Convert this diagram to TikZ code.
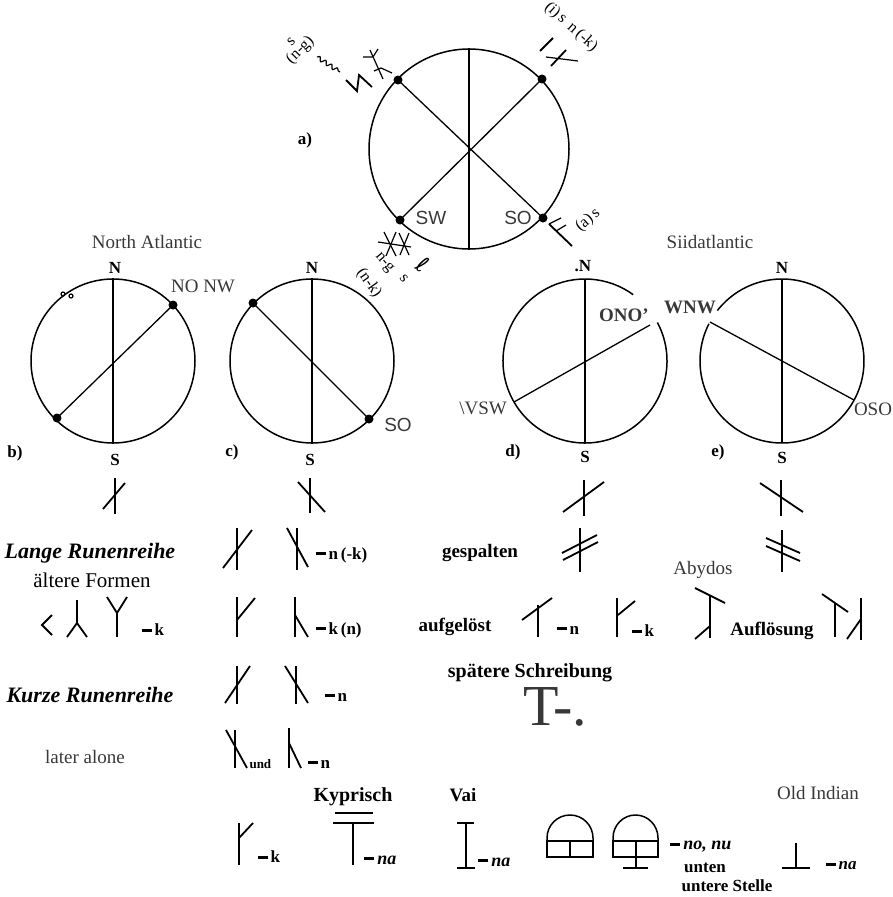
\documentclass[tikz,border=0pt]{standalone}
\usepackage{fontspec}
\setmainfont{Liberation Serif}
\setsansfont{Liberation Sans}
\newfontfamily\dvs{DejaVu Sans}
\usetikzlibrary{decorations.pathmorphing}
\newcommand{\fsz}[1]{\fontsize{#1}{#1}\selectfont}
\newcommand{\eqbar}{\rule[0.22em]{0.6em}{0.17em}\,}
\begin{document}
\begin{tikzpicture}[x=1pt,y=-1pt,
  circ/.style={draw, circle, line width=1.5pt, inner sep=0pt},
  dot/.style={circle, fill, inner sep=0pt, minimum size=9pt},
  ln/.style={line width=1.3pt},
  rn/.style={line width=1.8pt},
  thinrn/.style={line width=1.2pt},
  ov/.style={text=black!78, font=\fsz{19}},
  ovs/.style={text=black!78, font=\sffamily\fsz{19}},
  lbl/.style={font=\bfseries\fsz{17}},
  bigl/.style={font=\bfseries\fsz{19}},
  eq/.style={font=\bfseries\fsz{17}, anchor=west},
  sm/.style={font=\fsz{16}, inner sep=1pt}
]
\useasboundingbox (0,0) rectangle (893,897);

% ---------------- circle a
\node[circ, minimum size=200pt] (ca) at (469,149) {};
\draw[ln] (ca.north) -- (ca.south);
\node[dot] (aNW) at (398,80) {};
\node[dot] (aNE) at (542,79) {};
\node[dot] (aSW) at (400,220) {};
\node[dot] (aSO) at (543,218) {};
\draw[ln] (aNW.center) -- (aSO.center);
\draw[ln] (aNE.center) -- (aSW.center);
\node[lbl] (la) at (305,140) {a)};
\node[ovs] (tSW) at (431,218) {SW};
\node[ovs] (tSO) at (518,218) {SO};
% NW runes
\node[rotate=45, align=center, inner sep=1pt, font={\fontsize{16}{13}\selectfont}] (nwNG) at (297,47) {s\\(n-g)};
\draw[thinrn, decorate, decoration={snake, amplitude=2pt, segment length=7pt}] (317,57) -- (340,72);
\draw[rn] (346,80) -- (357,91) -- (359,75) -- (372,87);
\draw[thinrn] (370,50) -- (383,79);
\draw[thinrn] (363,57) -- (373,57) -- (378,49);
\draw[thinrn] (374,71) -- (381,68) -- (392,73);
% NE runes
\node[sm, rotate=-42] (neT) at (571,27) {(i)\,s\, n\,(-k)};
\draw[rn] (540,51) -- (553,38);
\draw[rn] (551,66) -- (566,50);
\draw[thinrn] (546,57) -- (578,61);
% SO runes
\draw[rn] (549,224) -- (572,246);
\draw[thinrn] (549,224) -- (561,218);
\draw[thinrn] (556,231) -- (566,225);
\node[sm, rotate=40] (soT) at (588,220) {(a)\,s};
% SW runes
\draw[thinrn] (378,242) -- (411,247);
\draw[thinrn] (384,232) -- (396,256);
\draw[thinrn] (396,232) -- (386,256);
\draw[thinrn] (399,233) -- (409,255);
\draw[thinrn] (409,233) -- (400,255);
\node[sm, rotate=-50] (swNG) at (384,263) {n-g};
\node[sm, rotate=-50] (swS) at (404,279) {s};
\node[sm, rotate=-55] (swNK) at (369,283) {(n-k)};
\node[font=\dvs\fsz{22}, rotate=-35] (swL) at (423,265) {ℓ};

% ---------------- titles
\node[ov] (tNA) at (147,242) {North Atlantic};
\node[ov] (tSA) at (710,242) {Siidatlantic};

% ---------------- circle b
\node[circ, minimum size=164pt] (cb) at (113,361) {};
\draw[thinrn] (cb.north) -- (cb.south);
\node[dot] (bNE) at (173,305) {};
\node[dot] (bSW) at (57,418) {};
\draw[ln] (bNE.center) -- (bSW.center);
\node[lbl] (bN) at (115,268) {N};
\node[lbl] (bS) at (115,460) {S};
\node[lbl] (bl) at (15,453) {b)};
\node[ov] (bNO) at (203,286) {NO NW};
\draw[line width=1.2pt] (63,294) circle (2);
\draw[line width=1.2pt] (71,296) circle (2);

% ---------------- circle c
\node[circ, minimum size=164pt] (cc) at (312,361) {};
\draw[thinrn] (cc.north) -- (cc.south);
\node[dot] (cNW) at (253,303) {};
\node[dot] (cSE) at (369,419) {};
\draw[ln] (cNW.center) -- (cSE.center);
\node[lbl] (cN) at (312,268) {N};
\node[lbl] (cS) at (310,460) {S};
\node[lbl] (cl) at (232,452) {c)};
\node[ovs] (cSO) at (398,425) {SO};

% ---------------- circle d
\coordinate (cd) at (585,361);
\draw[line width=1.5pt] (cd) ++(-28:82) arc[start angle=-28, end angle=306, radius=82];
\draw[thinrn] (585,279) -- (585,443);
\draw[line width=1.8pt] (585,325) -- (585,400);
\coordinate (dW) at (514,402);
\coordinate (dO) at (650,325);
\draw[ln] (dW) -- (dO);
\node[lbl] (dN) at (583,266) {.N};
\node[lbl] (dS) at (585,457) {S};
\node[lbl] (dl) at (513,452) {d)};
\node[ov, font=\bfseries\fsz{19}] (dONO) at (624,315) {ONO'};
\node[ov] (dVSW) at (483,408) {\textbackslash VSW};

% ---------------- circle e
\coordinate (ce) at (782,361);
\draw[line width=1.5pt] (ce) ++(218:82) arc[start angle=218, end angle=567, radius=82];
\draw[thinrn] (782,279) -- (782,361);
\draw[line width=2.2pt] (782,361) -- (782,443);
\coordinate (eW) at (710,322);
\coordinate (eO) at (854,400);
\draw[ln] (eW) -- (eO);
\node[lbl] (eN) at (782,268) {N};
\node[lbl] (eS) at (782,458) {S};
\node[lbl] (el) at (718,452) {e)};
\node[ov, font=\bfseries\fsz{19}] (eWNW) at (690,307) {WNW};
\node[ov] (eOSO) at (873,409) {OSO};

% ---------------- runes under circles
\draw[rn] (115,478) -- (115,514);  \draw[rn] (103,509) -- (125,483);
\draw[rn] (310,478) -- (310,513);  \draw[rn] (298,482) -- (325,512);
\draw[rn] (584,480) -- (584,516);  \draw[rn] (563,512) -- (604,482);
\draw[rn] (781,480) -- (781,516);  \draw[rn] (760,483) -- (803,512);

% ---------------- Lange Runenreihe
\node[font=\bfseries\itshape\fsz{22}] (lange) at (90,553) {Lange Runenreihe};
\node[font=\fsz{21}] (aelt) at (92,580) {ältere Formen};
\draw[rn] (237,528) -- (237,570);  \draw[rn] (223,568) -- (252,530);
\draw[rn] (297,528) -- (297,570);  \draw[rn] (287,528) -- (308,567);
\node[eq] (eq1) at (312,555) {\eqbar n\,(-k)};
\node[bigl] (gesp) at (480,553) {gespalten};
\draw[rn] (580,528) -- (580,572);
\draw[rn] (562,553) -- (597,535);  \draw[rn] (563,560) -- (598,542);
\draw[rn] (782,530) -- (782,572);
\draw[rn] (766,538) -- (800,553);  \draw[rn] (766,546) -- (800,561);
\node[ov] (abyd) at (703,570) {Abydos};

% row: < ⅄ Y = k
\draw[rn] (52,615) -- (42,625) -- (52,635);
\draw[rn] (77,600) -- (77,623); \draw[rn] (67,637) -- (77,623) -- (87,637);
\draw[rn] (107,597) -- (117,613) -- (127,597); \draw[rn] (117,613) -- (117,637);
\node[eq] (eqk) at (138,630) {\eqbar k};
\draw[rn] (237,597) -- (237,637);  \draw[rn] (237,620) -- (255,598);
\draw[rn] (295,597) -- (295,637);  \draw[rn] (295,615) -- (308,637);
\node[eq] (eqkn) at (312,630) {\eqbar k\,(n)};
\node[bigl] (aufg) at (455,627) {aufgelöst};
\draw[rn] (538,605) -- (538,637);  \draw[rn] (522,620) -- (552,598);
\node[eq] (eqn2) at (553,630) {\eqbar n};
\draw[rn] (617,598) -- (617,637);  \draw[rn] (618,615) -- (635,601);
\node[eq] (eqk2) at (628,631) {\eqbar k};
\draw[rn] (695,588) -- (725,603); \draw[rn] (710,595) -- (710,638); \draw[rn] (695,639) -- (710,626);
\node[bigl] (aufl) at (772,631) {Auflösung};
\draw[rn] (822,594) -- (848,612); \draw[rn] (835,603) -- (835,637);
\draw[rn] (861,598) -- (861,640); \draw[rn] (847,639) -- (861,619);

% ---------------- Kurze Runenreihe
\node[font=\bfseries\itshape\fsz{22}] (kurz) at (90,695) {Kurze Runenreihe};
\draw[rn] (237,666) -- (237,704);  \draw[rn] (225,703) -- (250,666);
\draw[rn] (296,666) -- (296,704);  \draw[rn] (285,666) -- (308,703);
\node[eq] (eqn3) at (321,697) {\eqbar n};
\node[font=\bfseries\fsz{20}] (spaet) at (530,673) {spätere Schreibung};
\node[ov, font=\fsz{58}] (tdot) at (555,707) {T-.};

% ---------------- later alone
\node[ov] (later) at (85,757) {later alone};
\draw[rn] (235,730) -- (235,768);  \draw[rn] (226,730) -- (247,768);
\node[font=\bfseries\fsz{13}, anchor=west] (und) at (246,764) {und};
\draw[rn] (289,728) -- (289,768);  \draw[rn] (289,743) -- (301,768);
\node[eq] (eqn4) at (304,764) {\eqbar n};

% ---------------- bottom row
\node[font=\bfseries\fsz{20}] (kypr) at (353,797) {Kyprisch};
\node[font=\bfseries\fsz{19}] (vai) at (463,795) {Vai};
\node[ov, font=\fsz{19}] (oind) at (818,793) {Old Indian};
\draw[rn] (239,823) -- (239,865);  \draw[rn] (239,838) -- (253,823);
\node[eq] (eqk5) at (254,857) {\eqbar k};
\draw[rn] (335,813) -- (373,813);
\draw[rn] (333,823) -- (374,823);  \draw[rn] (353,823) -- (353,865);
\node[eq, font=\bfseries\itshape\fsz{18}] (eqna1) at (360,860) {\eqbar na};
\draw[rn] (457,823) -- (474,823);  \draw[rn] (466,823) -- (466,868);  \draw[rn] (457,868) -- (475,868);
\node[eq, font=\bfseries\itshape\fsz{18}] (eqna2) at (474,862) {\eqbar na};
% domes
\draw[line width=1.5pt] (547,841) -- (547,838) arc[start angle=180, end angle=360, x radius=23, y radius=23] -- (593,841);
\draw[line width=1.5pt] (547,841) rectangle (593,857);
\draw[line width=1.5pt] (570,841) -- (570,857);
\draw[line width=1.5pt] (613,841) -- (613,838) arc[start angle=180, end angle=360, x radius=22.5, y radius=23] -- (658,841);
\draw[line width=1.5pt] (613,841) rectangle (658,857);
\draw[rn] (636,841) -- (636,868);  \draw[rn] (623,868) -- (648,868);
\node[eq, font=\bfseries\itshape\fsz{18}] (eqno) at (666,847) {\eqbar no, nu};
\node[font=\bfseries\fsz{17}] (unten) at (705,868) {unten};
\node[font=\bfseries\fsz{17}] (ustelle) at (727,886) {untere Stelle};
\draw[rn] (796,843) -- (796,868);  \draw[rn] (782,868) -- (810,868);
\node[eq, font=\bfseries\itshape\fsz{17}] (eqna3) at (822,866) {\eqbar na};
\end{tikzpicture}
\end{document}
